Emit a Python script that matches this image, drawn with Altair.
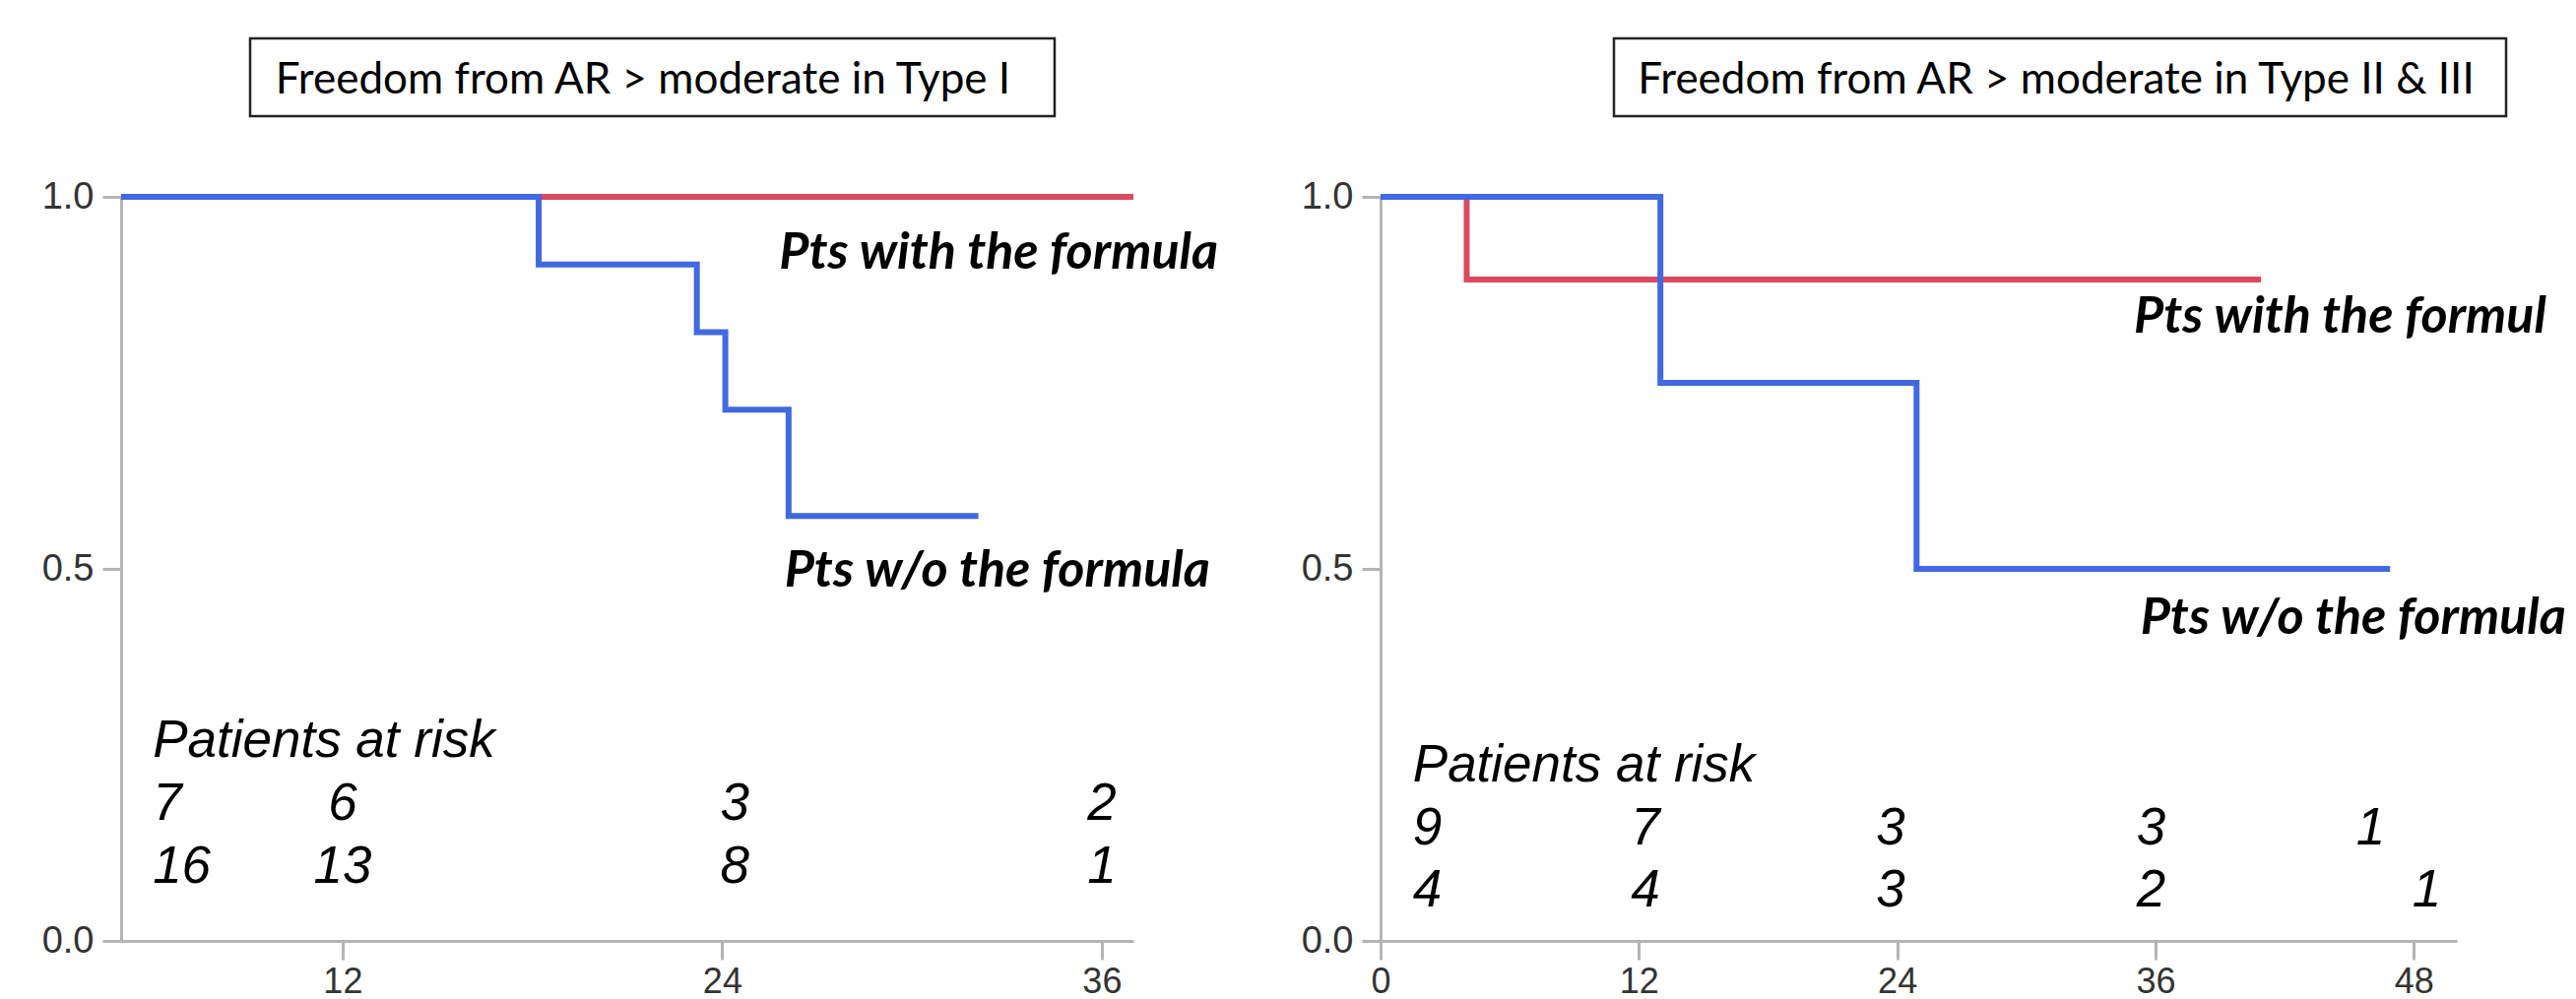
import altair as alt
import pandas as pd

# ---------------- data ----------------
# Left panel: Type I
L_TITLE = "Freedom from AR > moderate in Type I"
L_RED_T = [5, 37]
L_RED_S = [1.0, 1.0]
L_BLUE_T = [5, 18.2, 23.2, 24.1, 26.1, 32.1]
L_BLUE_S = [1.0, 0.909, 0.818, 0.714, 0.571, 0.571]
L_XTICKS = [12, 24, 36]
L_DOMAIN = [5, 37]
L_RISK_HEAD = ("Patients at risk", 6, 0.247)
L_RISK_X = [6, 12, 24.4, 36]
L_RISK_WITH = ["7", "6", "3", "2"]
L_RISK_WO = ["16", "13", "8", "1"]
L_RISK_Y = [0.163, 0.078]
L_LABELS = ["Pts with the formula", "Pts w/o the formula"]
L_LABEL_T = [25.8, 25.97]
L_LABEL_S = [0.903, 0.476]

# Right panel: Type II & III
R_TITLE = "Freedom from AR > moderate in Type II & III"
R_RED_T = [0, 4, 40.9]
R_RED_S = [1.0, 0.889, 0.889]
R_BLUE_T = [0, 13, 24.9, 46.9]
R_BLUE_S = [1.0, 0.75, 0.5, 0.5]
R_XTICKS = [0, 12, 24, 36, 48]
R_DOMAIN = [0, 50]
R_RISK_HEAD = ("Patients at risk", 1.5, 0.214)
R_RISK_X_WITH = [1.5, 12.3, 23.7, 35.8, 46]
R_RISK_X_WO = [1.5, 12.3, 23.7, 35.8, 48.6]
R_RISK_WITH = ["9", "7", "3", "3", "1"]
R_RISK_WO = ["4", "4", "3", "2", "1"]
R_RISK_Y = [0.130, 0.046]
R_LABELS = ["Pts with the formula", "Pts w/o the formula"]
R_LABEL_T = [35.0, 35.3]
R_LABEL_S = [0.817, 0.413]

RED = "#DB4A5E"
BLUE = "#4169E1"
AXIS_GREY = "#b4b4b4"
PLOT_H = 756


def build_panel(title, red_t, red_s, blue_t, blue_s, xticks, domain,
                risk_head, risk_rows, labels, label_t, label_s,
                width, box_x, box_x2, title_x, label_limit):
    xenc = alt.X("t:Q",
                 scale=alt.Scale(domain=domain, nice=False, zero=False),
                 axis=alt.Axis(values=xticks, format="d", title=None, grid=False,
                               domainColor=AXIS_GREY, domainWidth=3,
                               tickColor=AXIS_GREY, tickWidth=3, tickSize=19,
                               labelFont="Liberation Sans", labelFontSize=36,
                               labelColor="#333333", labelPadding=5,
                               labelFlush=False, labelOverlap=False))
    yenc = alt.Y("s:Q",
                 scale=alt.Scale(domain=[0, 1], nice=False, zero=True),
                 axis=alt.Axis(values=[0, 0.5, 1.0], format=".1f", title=None, grid=False,
                               domainColor=AXIS_GREY, domainWidth=3,
                               tickColor=AXIS_GREY, tickWidth=3, tickSize=19,
                               labelFont="Liberation Sans", labelFontSize=38,
                               labelColor="#333333", labelPadding=9,
                               minExtent=86, labelFlush=False, labelOverlap=False))

    red_df = pd.DataFrame({"t": red_t, "s": red_s})
    blue_df = pd.DataFrame({"t": blue_t, "s": blue_s})

    red_line = alt.Chart(red_df).mark_line(interpolate="step-after", strokeWidth=6,
                                           color=RED).encode(x=xenc, y=yenc)
    blue_line = alt.Chart(blue_df).mark_line(interpolate="step-after", strokeWidth=6,
                                             color=BLUE).encode(x=xenc, y=yenc)

    # patients at risk
    rows = []
    for (xs, vals, yv) in risk_rows:
        for i, (xv, v) in enumerate(zip(xs, vals)):
            rows.append({"t": xv, "s": yv, "label": v, "first": i == 0})
    risk_df = pd.DataFrame(rows)
    head_df = pd.DataFrame({"t": [risk_head[1]], "s": [risk_head[2]], "label": [risk_head[0]]})

    risk_style = dict(font="Liberation Sans", fontStyle="italic", fontSize=53,
                      baseline="alphabetic", color="black")
    head_txt = alt.Chart(head_df).mark_text(align="left", **risk_style).encode(
        x=xenc, y=yenc, text="label:N")
    risk_first = alt.Chart(risk_df).transform_filter("datum.first").mark_text(
        align="left", **risk_style).encode(x=xenc, y=yenc, text="label:N")
    risk_rest = alt.Chart(risk_df).transform_filter("!datum.first").mark_text(
        align="center", **risk_style).encode(x=xenc, y=yenc, text="label:N")

    lab_df = pd.DataFrame({"t": label_t, "s": label_s, "label": labels})
    lab_kwargs = dict(font="Lato", fontStyle="italic", fontWeight="bold", fontSize=52,
                      align="left", baseline="alphabetic", color="black")
    if label_limit:
        lab_kwargs["limit"] = label_limit
        lab_kwargs["ellipsis"] = "\u200b"
    lab_txt = alt.Chart(lab_df).mark_text(**lab_kwargs).encode(x=xenc, y=yenc, text="label:N")

    box_df = pd.DataFrame({"title": [title]})
    box = alt.Chart(box_df).mark_rect(fill="white", stroke="#222222", strokeWidth=2.5).encode(
        x=alt.value(box_x), x2=alt.value(box_x2), y=alt.value(-161), y2=alt.value(-82))
    box_txt = alt.Chart(box_df).mark_text(font="Lato", fontSize=44, align="center",
                                          baseline="alphabetic", color="black").encode(
        x=alt.value(title_x), y=alt.value(-105), text="title:N")

    return alt.layer(red_line, blue_line, head_txt, risk_first, risk_rest, lab_txt,
                     box, box_txt).properties(width=width, height=PLOT_H)


left = build_panel(L_TITLE, L_RED_T, L_RED_S, L_BLUE_T, L_BLUE_S, L_XTICKS, L_DOMAIN,
                   L_RISK_HEAD,
                   [(L_RISK_X, L_RISK_WITH, L_RISK_Y[0]), (L_RISK_X, L_RISK_WO, L_RISK_Y[1])],
                   L_LABELS, L_LABEL_T, L_LABEL_S,
                   width=1028, box_x=131, box_x2=948, title_x=530, label_limit=0)

right = build_panel(R_TITLE, R_RED_T, R_RED_S, R_BLUE_T, R_BLUE_S, R_XTICKS, R_DOMAIN,
                    R_RISK_HEAD,
                    [(R_RISK_X_WITH, R_RISK_WITH, R_RISK_Y[0]), (R_RISK_X_WO, R_RISK_WO, R_RISK_Y[1])],
                    R_LABELS, R_LABEL_T, R_LABEL_S,
                    width=1093, box_x=237, box_x2=1143, title_x=686, label_limit=433)

chart = alt.hconcat(left, right, spacing=251, bounds="flush").properties(
    padding={"left": 29, "top": 29, "right": 0, "bottom": 0},
    background="white",
).configure_view(strokeWidth=0, stroke="transparent")

chart.save("out.html", embed_options={"renderer": "svg", "actions": False})
